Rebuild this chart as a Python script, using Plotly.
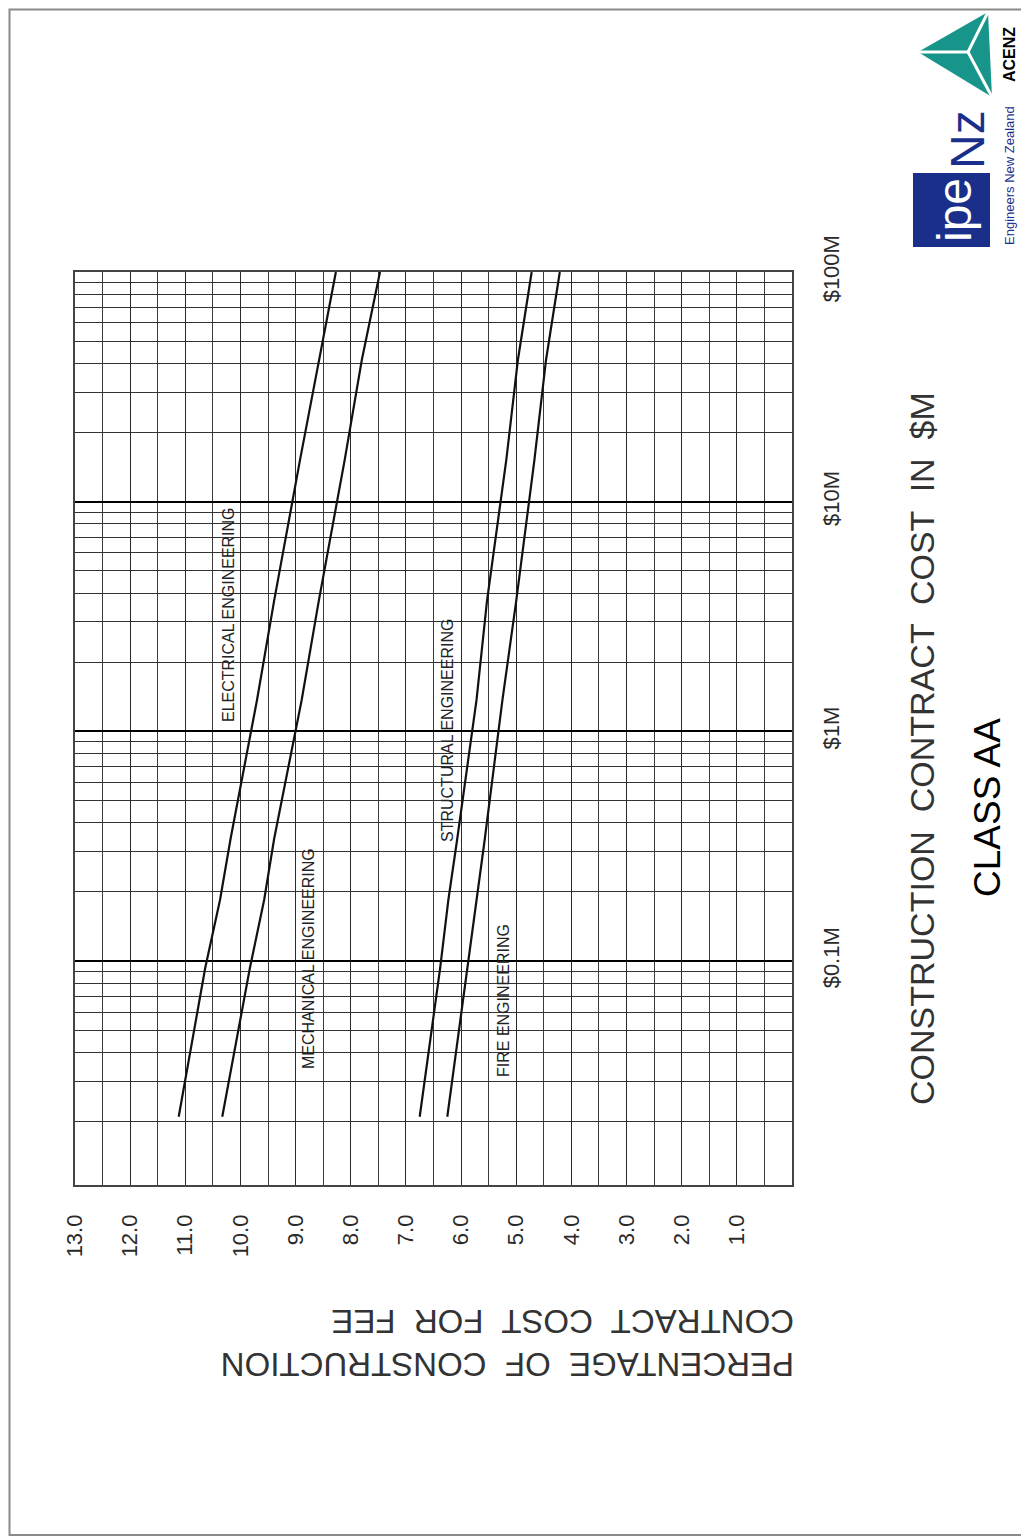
import plotly.graph_objects as go

# ---------------- data ----------------
cost_musd = [0.021, 0.093, 0.185, 0.34, 1.37, 3.7, 15.2, 41.4, 100]
electrical = [11.12, 10.64, 10.37, 10.18, 9.70, 9.39, 8.92, 8.58, 8.27]
mechanical = [10.33, 9.83, 9.57, 9.39, 8.89, 8.58, 8.11, 7.80, 7.47]
structural = [6.75, 6.38, 6.23, 6.07, 5.72, 5.53, 5.18, 4.97, 4.72]
fire = [6.25, 5.89, 5.72, 5.57, 5.25, 5.00, 4.67, 4.46, 4.21]

series_names = ["ELECTRICAL ENGINEERING", "MECHANICAL ENGINEERING",
                "STRUCTURAL ENGINEERING", "FIRE ENGINEERING"]

pct_ticks = [1, 2, 3, 4, 5, 6, 7, 8, 9, 10, 11, 12, 13]
pct_labels = ["1.0", "2.0", "3.0", "4.0", "5.0", "6.0", "7.0", "8.0", "9.0",
              "10.0", "11.0", "12.0", "13.0"]
cost_ticks = [0.1, 1, 10, 100]
cost_labels = ["$0.1M", "$1M", "$10M", "$100M"]
cost_minor = [m * d for d in (0.01, 0.1, 1, 10) for m in range(2, 10)]

# ---------------- layout geometry ----------------
OFF = 8                       # page body margin of the browser
W, H = 1029 - OFF, 1538 - OFF
L, R, T, B = 75, 792, 272, 1185  # plot area in page pixels


def px(x):
    return (x - L) / (R - L)


def py(y):
    return (B - y) / (B - T)


FONT = "Liberation Sans, Arial, sans-serif"

fig = go.Figure()
for name, vals in zip(series_names, [electrical, mechanical, structural, fire]):
    fig.add_trace(go.Scatter(x=vals, y=cost_musd, mode="lines", name=name,
                             line=dict(color="#111", width=2.2),
                             showlegend=False, hoverinfo="skip"))

fig.update_layout(
    width=W, height=H, autosize=False,
    margin=dict(l=L - OFF, r=W - (R - OFF), t=T - OFF, b=H - (B - OFF), pad=0),
    paper_bgcolor="white", plot_bgcolor="white",
    font=dict(family=FONT, color="#222"),
    xaxis=dict(
        range=[13, 0], tickmode="array", tickvals=pct_ticks, ticktext=pct_labels,
        tickangle=-90, ticks="outside", ticklen=19, tickcolor="rgba(0,0,0,0)",
        tickfont=dict(size=22, family=FONT, color="#2a2a2a"),
        showgrid=True, gridcolor="#2a2a2a", gridwidth=1, zeroline=False,
        showline=True, mirror=True, linecolor="#444", linewidth=1.5,
        minor=dict(tickmode="linear", tick0=0.5, dtick=1, showgrid=True,
                   gridcolor="#3a3a3a", gridwidth=1, ticks=""),
    ),
    yaxis=dict(
        type="log", range=[-1.975, 2.0], side="right",
        tickmode="array", tickvals=cost_ticks, ticktext=cost_labels,
        tickangle=-90, ticks="outside", ticklen=19, tickcolor="rgba(0,0,0,0)",
        tickfont=dict(size=22, family=FONT, color="#2a2a2a"),
        showgrid=True, gridcolor="#000", gridwidth=2, zeroline=False,
        showline=True, mirror=True, linecolor="#444", linewidth=1.5,
        minor=dict(tickvals=cost_minor, showgrid=True, gridcolor="#333",
                   gridwidth=1, ticks=""),
    ),
)

ann = []
# curve labels
curve_label_pos = [(228, 615), (308, 959), (447, 731), (503, 1001)]
for name, (cx, cy) in zip(series_names, curve_label_pos):
    ann.append(dict(text=name, x=px(cx), y=py(cy), xref="paper", yref="paper",
                    xanchor="center", yanchor="middle", textangle=-90,
                    showarrow=False, font=dict(size=16, family=FONT, color="#222")))

# axis titles
ann.append(dict(text="CONSTRUCTION  CONTRACT  COST  IN  $M", x=px(922), y=py(748),
                xref="paper", yref="paper", xanchor="center", yanchor="middle",
                textangle=-90, showarrow=False,
                font=dict(size=34, family=FONT, color="#333")))
ann.append(dict(text="CLASS AA", x=px(987), y=py(808), xref="paper", yref="paper",
                xanchor="center", yanchor="middle", textangle=-90, showarrow=False,
                font=dict(size=37, family=FONT, color="#000")))
ann.append(dict(text="PERCENTAGE  OF  CONSTRUCTION<br>CONTRACT  COST  FOR  FEE",
                x=px(796), y=py(1343), xref="paper", yref="paper",
                xanchor="right", yanchor="middle", align="left", textangle=180,
                showarrow=False, font=dict(size=33, family=FONT, color="#333")))

# logo texts
ann.append(dict(text="<b>ACENZ</b>", x=px(1009), y=py(55), xref="paper", yref="paper",
                xanchor="center", yanchor="middle", textangle=-90, showarrow=False,
                font=dict(size=16, family=FONT, color="#000")))
ann.append(dict(text="ipe", x=px(955), y=py(210), xref="paper", yref="paper",
                xanchor="center", yanchor="middle", textangle=-90, showarrow=False,
                font=dict(size=48, family=FONT, color="white")))
ann.append(dict(text="Nz", x=px(968), y=py(140), xref="paper", yref="paper",
                xanchor="center", yanchor="middle", textangle=-90, showarrow=False,
                font=dict(size=48, family=FONT, color="#1a2f8a")))
ann.append(dict(text="Engineers New Zealand", x=px(1009), y=py(176), xref="paper",
                yref="paper", xanchor="center", yanchor="middle", textangle=-90,
                showarrow=False, font=dict(size=13, family=FONT, color="#1a2f8a")))
fig.update_layout(annotations=ann)

shapes = []
# page frame (kept just inside the figure area)
shapes.append(dict(type="rect", xref="paper", yref="paper", x0=px(9.5), x1=px(1026),
                   y0=py(1535), y1=py(9.5), line=dict(color="#8a8a8a", width=2),
                   fillcolor="rgba(0,0,0,0)", layer="below"))
# ACENZ teal triangle
tri = [(918, 52), (988, 12), (992, 97)]
path = "M {} {} L {} {} L {} {} Z".format(px(tri[0][0]), py(tri[0][1]),
                                          px(tri[1][0]), py(tri[1][1]),
                                          px(tri[2][0]), py(tri[2][1]))
shapes.append(dict(type="path", xref="paper", yref="paper", path=path,
                   fillcolor="#17958a", line=dict(width=0)))
ctr = (968, 52)
for vx, vy in tri:
    shapes.append(dict(type="line", xref="paper", yref="paper",
                       x0=px(ctr[0]), y0=py(ctr[1]), x1=px(vx), y1=py(vy),
                       line=dict(color="white", width=3)))
# IPENZ navy box
shapes.append(dict(type="rect", xref="paper", yref="paper", x0=px(913), x1=px(990),
                   y0=py(247), y1=py(173), fillcolor="#1a2f8a", line=dict(width=0),
                   layer="below"))
fig.update_layout(shapes=shapes)

fig.write_html("out.html")
